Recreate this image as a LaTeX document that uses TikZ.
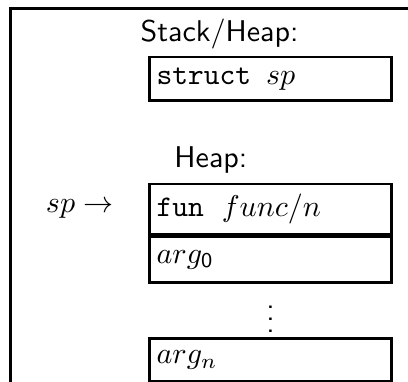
\documentclass[tikz,border=0pt]{standalone}
\usepackage{amsmath,amssymb}
\usepackage{tikz}
\usetikzlibrary{positioning}

\begin{document}
\begin{tikzpicture}[x=1pt, y=1pt, font=\sffamily,
		cell/.style={draw, line width=0.9pt, rectangle, minimum height=14.4pt,
			text width=76pt, inner xsep=2.4pt, align=left}]
		
		\useasboundingbox (0,0) rectangle (136,127);
		
		% Frame
		\draw[line width=1pt] (3.43,-2) |- (140,124.2);
		
		% Nodes
		\node[anchor=base] (stacklbl) at (73.2,113.1) {Stack/Heap:};
		
		\node[cell] (struct) at (90.2,100.8) {\texttt{struct}\hspace{5pt}$sp$};
		
		\node[anchor=base] (heaplbl) at (70.3,71.3) {Heap:};
		
		\node[cell, below=27pt of struct] (fun) {\texttt{fun}\hspace{6pt}$func$/$n$};
		
		\node[cell, minimum height=15.4pt, below=0pt of fun] (arg0) {$arg_{\mathsf{0}}$};
		
		\node[cell, below=17.7pt of arg0] (argn) {$arg_n$};
		
		\path (arg0) -- (argn) node[midway] (dots) {$\vdots$};
		
		\node[left=8pt of fun] (ptr) {$sp \rightarrow$};
		
\end{tikzpicture}
\end{document}
